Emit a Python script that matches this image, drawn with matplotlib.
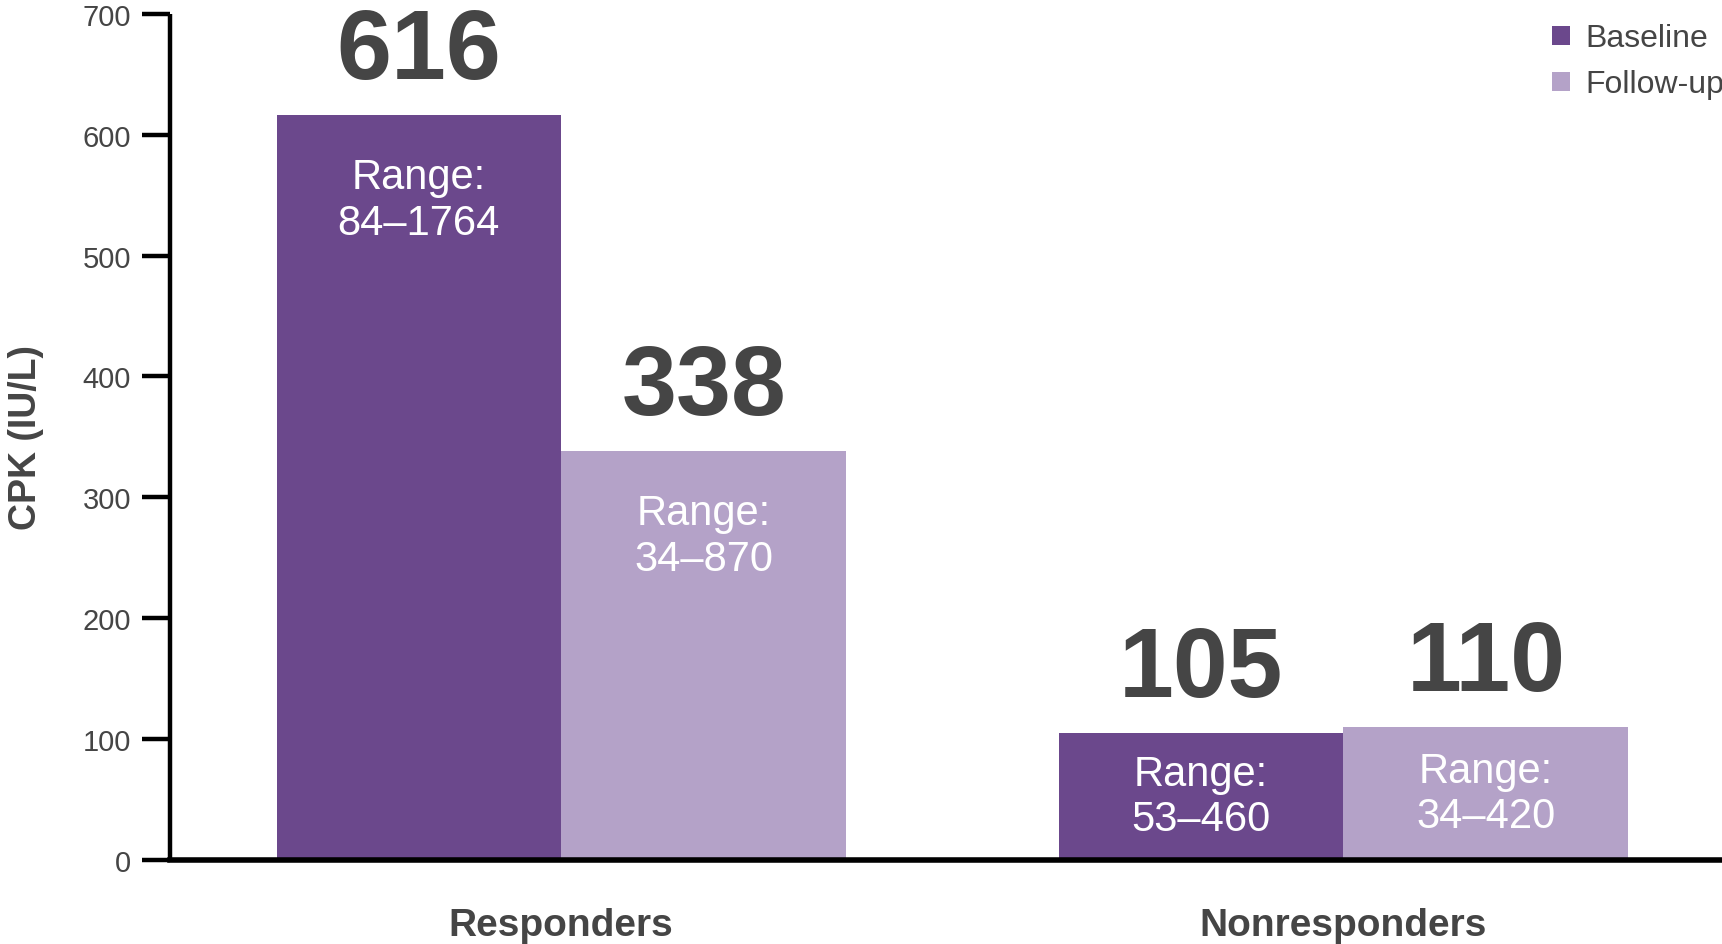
import numpy as np
import matplotlib.pyplot as plt

groups = ['Responders', 'Nonresponders']
series = ['Baseline', 'Follow-up']
baseline = [616, 105]
followup = [338, 110]
baseline_range = ['84–1764', '53–460']
followup_range = ['34–870', '34–420']

DARK = '#6b488c'
LIGHT = '#b4a2c8'
GREY = '#454545'

plt.rcParams['font.family'] = ['Liberation Sans', 'DejaVu Sans']

fig = plt.figure(figsize=(17.22, 9.45), dpi=100)
ax = fig.add_axes([0.0988, 0.0889, 0.9012, 0.8955])

x = np.arange(len(groups))
w = 0.364

bars_b = ax.bar(x - w / 2, baseline, w, color=DARK, label=series[0])
bars_f = ax.bar(x + w / 2, followup, w, color=LIGHT, label=series[1])

for bars, vals, ranges in [(bars_b, baseline, baseline_range),
                           (bars_f, followup, followup_range)]:
    for b, v, r in zip(bars, vals, ranges):
        cx = b.get_x() + b.get_width() / 2
        ax.text(cx, v + 52, str(v), ha='center', va='center',
                fontsize=71, fontweight='bold', color=GREY)
        ty = max(v / 2, v - 70)
        ax.text(cx, ty, 'Range:\n' + r, ha='center', va='center',
                fontsize=30, color='white', linespacing=1.18)

ax.set_xlim(-0.5, 1.484)
ax.set_ylim(0, 700)
ax.set_yticks(range(0, 701, 100))

ax.spines['top'].set_visible(False)
ax.spines['right'].set_visible(False)
ax.spines['left'].set_linewidth(3.2)
ax.spines['bottom'].set_linewidth(4)
ax.spines['left'].set_capstyle('butt')

ax.tick_params(axis='y', length=20, width=3.2, pad=8, labelsize=21,
               labelcolor=GREY)
ax.set_xticks(x)
ax.set_xticklabels(groups, fontsize=28, fontweight='bold', color=GREY)
ax.tick_params(axis='x', length=0, pad=34)

ax.set_ylabel('CPK (IU/L)', fontsize=27, fontweight='bold', color=GREY)
ax.yaxis.set_label_coords(-0.081, 0.5)

fig.legend(loc='upper left', bbox_to_anchor=(0.892, 0.991), frameon=False,
           fontsize=23, handlelength=0.55, handleheight=0.55,
           handletextpad=0.5, labelspacing=0.5, borderpad=0,
           labelcolor=GREY)

fig.savefig('out.png', dpi=100)
